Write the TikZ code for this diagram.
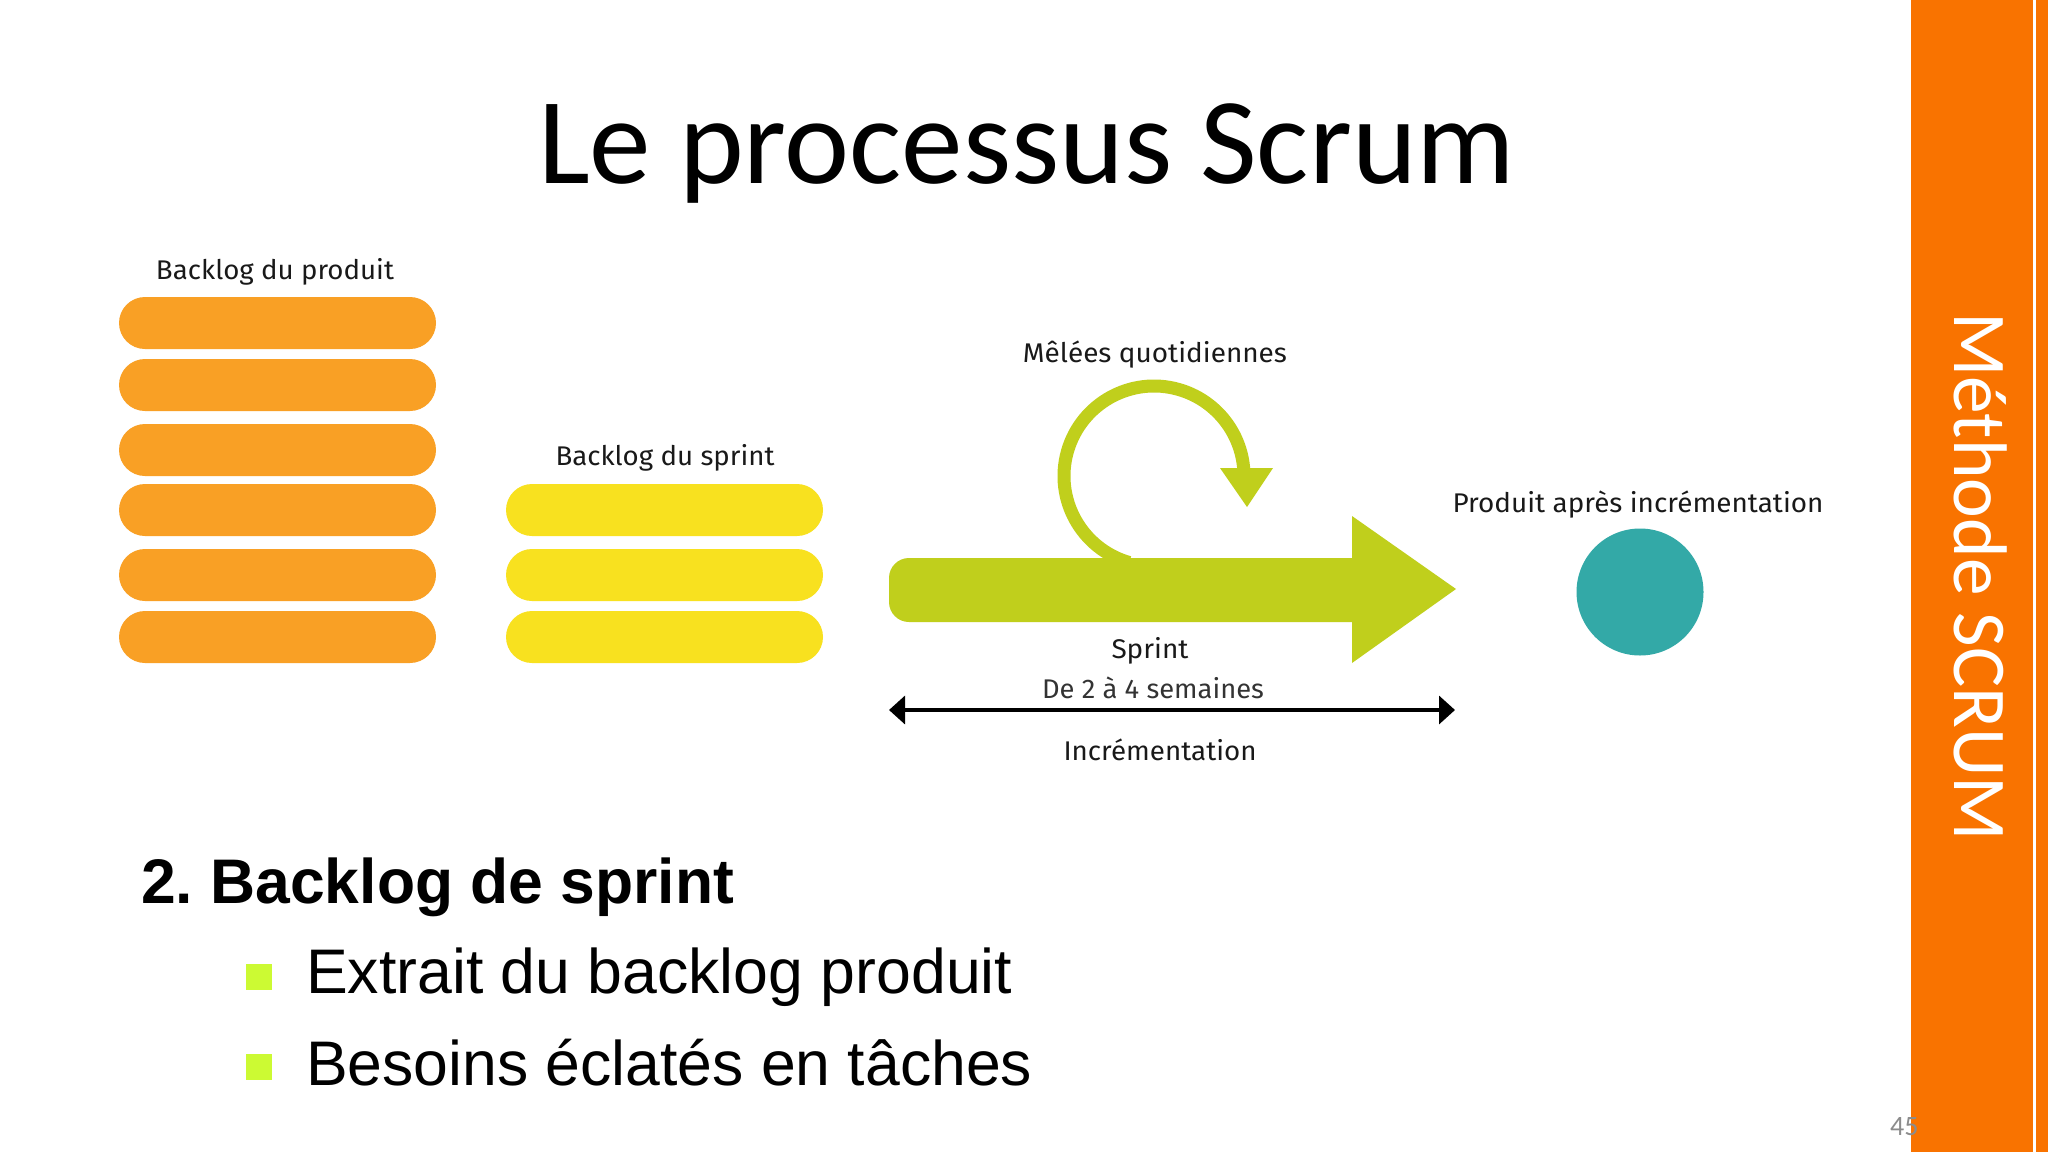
\documentclass[tikz,border=0pt]{standalone}
\usepackage{fontspec}
\usepackage{graphicx}
\usetikzlibrary{arrows.meta,shapes.misc}
\newfontfamily\calib{Carlito}
\newfontfamily\arialf{Liberation Sans}
\newfontfamily\firaf{Fira Sans}
\newcommand{\fitw}[2]{\resizebox{#1}{\height}{#2}}
\definecolor{bandorange}{RGB}{249,115,0}
\definecolor{barorange}{RGB}{249,160,37}
\definecolor{baryellow}{RGB}{248,225,31}
\definecolor{sgreen}{RGB}{192,207,28}
\definecolor{prodteal}{RGB}{51,169,167}
\definecolor{bulletlime}{RGB}{204,250,51}
\definecolor{lblcol}{RGB}{25,25,25}
\tikzset{
  pbar/.style={rounded rectangle, fill=barorange, minimum width=317pt, minimum height=52pt, inner sep=0pt},
  sbar/.style={rounded rectangle, fill=baryellow, minimum width=317pt, minimum height=52pt, inner sep=0pt},
  lbl/.style={anchor=base, inner sep=0pt, text=lblcol, font=\firaf\fontsize{27}{32}\selectfont},
  bulsq/.style={fill=bulletlime, minimum size=26pt, inner sep=0pt},
  bultxt/.style={anchor=base west, inner sep=0pt, font=\arialf\fontsize{63}{75}\selectfont},
}
\frenchspacing
\begin{document}
\begin{tikzpicture}[x=1pt,y=-1pt]
\useasboundingbox (0,0) rectangle (2048,1152);
\fill[white] (0,0) rectangle (2048,1152);

% side band
\fill[bandorange] (1911,0) rectangle (2048,1152);
\fill[white] (2033,0) rectangle (2036,1152);
\node[rotate=-90, anchor=base west, inner sep=0pt, text=white, font=\calib\fontsize{76}{90}\selectfont] (side) at (1954,312) {\fitw{529pt}{Méthode SCRUM}};
\node[anchor=base west, inner sep=0pt, text=black!45, font=\calib\fontsize{28}{32}\selectfont] (pnum) at (1890,1135) {45};

% title
\node[anchor=base west, inner sep=0pt, font=\calib\fontsize{123}{140}\selectfont] (title) at (538,183) {\fitw{977pt}{Le processus Scrum}};

% product backlog
\node[lbl] (lprod) at (275,279) {\fitw{238pt}{Backlog du produit}};
\node[pbar] (p1) at (277.5,323) {};
\node[pbar] (p2) at (277.5,385) {};
\node[pbar] (p3) at (277.5,450) {};
\node[pbar] (p4) at (277.5,510) {};
\node[pbar] (p5) at (277.5,575) {};
\node[pbar] (p6) at (277.5,637) {};

% sprint backlog
\node[lbl] (lspr) at (665,465) {\fitw{219pt}{Backlog du sprint}};
\node[sbar] (s1) at (664.5,510) {};
\node[sbar] (s2) at (664.5,575) {};
\node[sbar] (s3) at (664.5,637) {};

% daily scrum loop
\draw[sgreen, line width=13pt] (1154,476) ++(106:90) arc[start angle=106, end angle=356, radius=90];
\fill[sgreen] (1220,468) -- (1273,468) -- (1247,507) -- cycle;
\node[lbl] (lmel) at (1155,362) {\fitw{264pt}{Mêlées quotidiennes}};

% sprint arrow
\fill[sgreen] (1100,622) [rounded corners=20pt] -- (889,622) -- (889,558) -- (1100,558) [sharp corners] -- (1352,558) -- (1352,516) -- (1456,589) -- (1352,663) -- (1352,622) -- cycle;
\node[lbl] (lsprint) at (1150,658) {\fitw{77pt}{Sprint}};
\node[lbl, text=black!80] (ldur) at (1153,698) {\fitw{222pt}{De 2 à 4 semaines}};
\coordinate (al) at (889,710);
\coordinate (ar) at (1455,710);
\draw[line width=3.5pt, {Triangle[length=16pt,width=28pt]}-{Triangle[length=16pt,width=28pt]}] (al) -- (ar);
\node[lbl] (linc) at (1160,760) {\fitw{193pt}{Incrémentation}};

% product after increment
\node[lbl] (lpa) at (1638,512) {\fitw{371pt}{Produit après incrémentation}};
\node[circle, fill=prodteal, minimum size=127pt, inner sep=0pt] (prod) at (1640,592) {};

% bullets
\node[anchor=base west, inner sep=0pt, font=\arialf\bfseries\fontsize{63}{75}\selectfont] (head) at (141,903) {\fitw{593pt}{2. Backlog de sprint}};
\node[bulsq] (b1) at (259,976.5) {};
\node[bultxt] (t1) at (306,993) {\fitw{706pt}{Extrait du backlog produit}};
\node[bulsq] (b2) at (259,1067) {};
\node[bultxt] (t2) at (306,1085) {\fitw{726pt}{Besoins éclatés en tâches}};
\end{tikzpicture}
\end{document}
